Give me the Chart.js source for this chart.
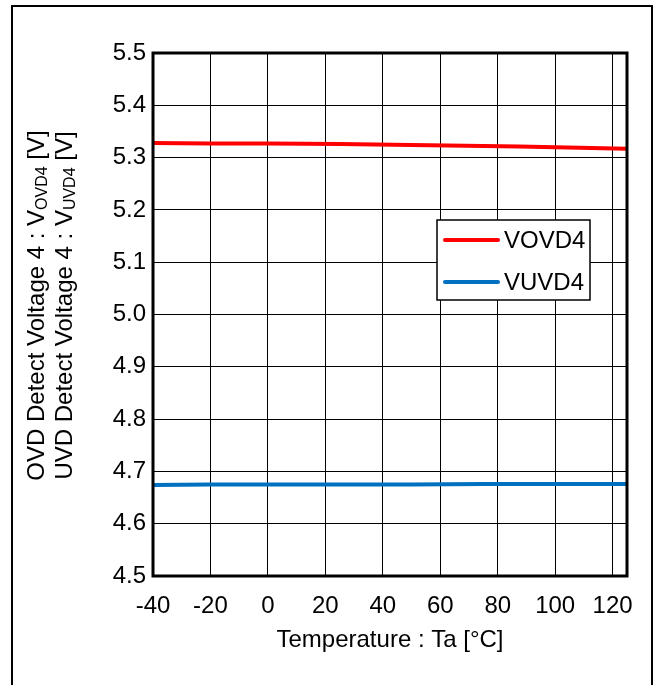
<!DOCTYPE html>
<html>
<head>
<meta charset="utf-8">
<script src="https://cdn.jsdelivr.net/npm/chart.js@4.4.1/dist/chart.umd.min.js"></script>
<style>
html,body{margin:0;padding:0;background:#fff;}
canvas{display:block;}
</style>
</head>
<body>
<canvas id="c" width="664" height="685"></canvas>
<script>
// ---- data ----
const temps = [-40, -20, 0, 25, 50, 75, 100, 125];
const vovd4 = [5.328, 5.327, 5.327, 5.326, 5.324, 5.322, 5.320, 5.317];
const vuvd4 = [4.674, 4.675, 4.675, 4.675, 4.675, 4.676, 4.676, 4.676];
const xTicks = [-40, -20, 0, 20, 40, 60, 80, 100, 120, 125];
const xTickLabels = ['-40', '-20', '0', '20', '40', '60', '80', '100', '120', ''];
const yTicks = [4.5, 4.6, 4.7, 4.8, 4.9, 5.0, 5.1, 5.2, 5.3, 5.4, 5.5];
const yTickLabels = ['4.5', '4.6', '4.7', '4.8', '4.9', '5.0', '5.1', '5.2', '5.3', '5.4', '5.5'];
const seriesNames = ['VOVD4', 'VUVD4'];
const xTitle = 'Temperature : Ta [°C]';
const yTitleLines = [
  ['OVD Detect Voltage 4 : V', 'OVD4', ' [V]'],
  ['UVD Detect Voltage 4 : V', 'UVD4', ' [V]']
];

const FONT = "'Liberation Sans', Arial, sans-serif";
const FS = 24;

const framePlugin = {
  id: 'frame',
  beforeDraw(chart) {
    const ctx = chart.ctx;
    ctx.save();
    ctx.fillStyle = '#fff';
    ctx.fillRect(0, 0, chart.width, chart.height);
    ctx.strokeStyle = '#000';
    ctx.lineWidth = 2;
    ctx.strokeRect(12, 6, 640, 700);
    ctx.restore();
  },
  afterDraw(chart) {
    const ctx = chart.ctx;
    const a = chart.chartArea;
    ctx.save();
    // plot border
    ctx.strokeStyle = '#000';
    ctx.lineWidth = 3;
    ctx.strokeRect(a.left, a.top, a.right - a.left, a.bottom - a.top);
    // y title with subscripts
    ctx.fillStyle = '#000';
    ctx.textBaseline = 'middle';
    const cy = (a.top + a.bottom) / 2 - 9;
    const xs = [37, 65];
    yTitleLines.forEach((parts, i) => {
      ctx.save();
      ctx.translate(xs[i], cy);
      ctx.rotate(-Math.PI / 2);
      const big = FS + 'px ' + FONT, small = Math.round(FS * 0.65) + 'px ' + FONT;
      ctx.font = big; const w0 = ctx.measureText(parts[0]).width; const w2 = ctx.measureText(parts[2]).width;
      ctx.font = small; const w1 = ctx.measureText(parts[1]).width;
      let x = -(w0 + w1 + w2) / 2;
      ctx.textAlign = 'left';
      ctx.font = big; ctx.fillText(parts[0], x, 0); x += w0;
      ctx.font = small; ctx.fillText(parts[1], x, 6); x += w1;
      ctx.font = big; ctx.fillText(parts[2], x, 0);
      ctx.restore();
    });
    // legend box
    const lx = a.left + 284, ly = a.top + 167, lw = 153, lh = 80;
    ctx.fillStyle = '#fff';
    ctx.fillRect(lx, ly, lw, lh);
    ctx.strokeStyle = '#000';
    ctx.lineWidth = 1.5;
    ctx.strokeRect(lx, ly, lw, lh);
    chart.data.datasets.forEach((ds, i) => {
      const yy = ly + 20 + i * 42;
      ctx.strokeStyle = ds.borderColor;
      ctx.lineWidth = 4;
      ctx.lineCap = 'round';
      ctx.beginPath(); ctx.moveTo(lx + 8, yy); ctx.lineTo(lx + 61, yy); ctx.stroke();
      ctx.fillStyle = '#000';
      ctx.font = FS + 'px ' + FONT;
      ctx.textAlign = 'left';
      ctx.textBaseline = 'middle';
      ctx.fillText(ds.label, lx + 67, yy + 1);
    });
    ctx.restore();
  }
};

new Chart(document.getElementById('c'), {
  type: 'line',
  data: {
    datasets: [
      { label: seriesNames[0], data: temps.map((t, i) => ({x: t, y: vovd4[i]})), borderColor: '#FF0000', borderWidth: 4, pointRadius: 0, tension: 0.3, fill: false },
      { label: seriesNames[1], data: temps.map((t, i) => ({x: t, y: vuvd4[i]})), borderColor: '#0070C0', borderWidth: 4, pointRadius: 0, tension: 0.3, fill: false }
    ]
  },
  options: {
    responsive: false,
    devicePixelRatio: 1,
    animation: false,
    layout: { padding: { left: 0, right: 37, top: 53, bottom: 0 } },
    plugins: { legend: { display: false }, tooltip: { enabled: false } },
    scales: {
      x: {
        type: 'linear', min: -40, max: 125,
        afterBuildTicks(s) { s.ticks = xTicks.map(v => ({value: v})); },
        afterFit(s) { s.height = 109; },
        grid: { color: '#000', lineWidth: 1, drawTicks: false },
        border: { display: false },
        ticks: { autoSkip: false, maxRotation: 0, padding: 16, color: '#000', font: { family: FONT, size: FS },
          callback(v) { const i = xTicks.indexOf(v); return i >= 0 ? xTickLabels[i] : ''; } },
        title: { display: true, text: xTitle, color: '#000', font: { family: FONT, size: FS }, padding: { top: 0, bottom: 30 } }
      },
      y: {
        type: 'linear', min: 4.5, max: 5.5,
        afterBuildTicks(s) { s.ticks = yTicks.map(v => ({value: v})); },
        afterFit(s) { s.width = 153; },
        grid: { color: '#000', lineWidth: 1, drawTicks: false },
        border: { display: false },
        ticks: { autoSkip: false, padding: 7, color: '#000', font: { family: FONT, size: FS },
          callback(v) { const i = yTicks.findIndex(t => Math.abs(t - v) < 1e-6); return i >= 0 ? yTickLabels[i] : ''; } }
      }
    }
  },
  plugins: [framePlugin]
});
</script>
</body>
</html>
